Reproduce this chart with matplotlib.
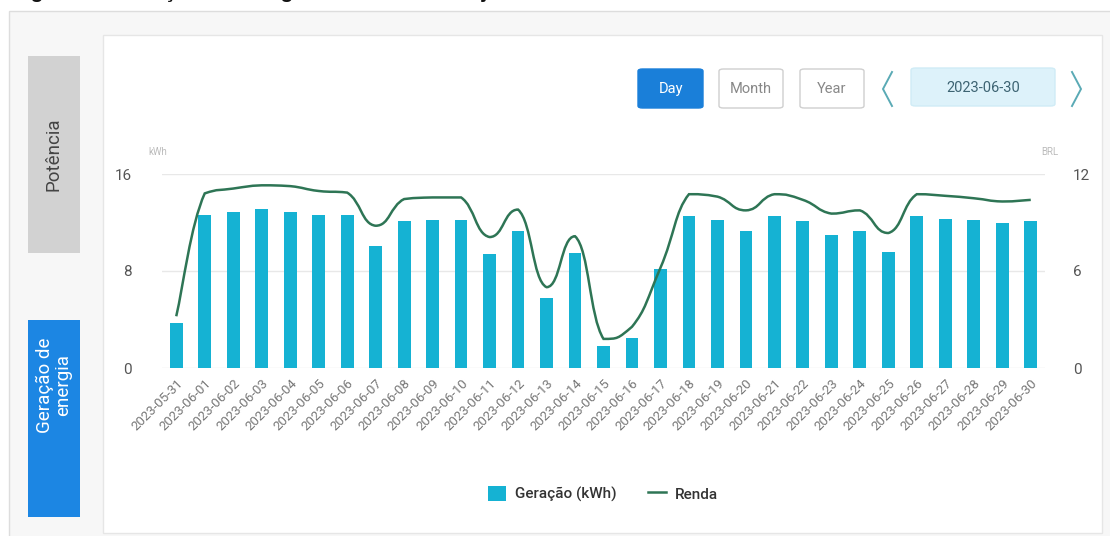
import numpy as np
import matplotlib
matplotlib.use("Agg")
import matplotlib.pyplot as plt
from matplotlib.patches import Rectangle, FancyBboxPatch, Patch, PathPatch
from matplotlib.lines import Line2D
from matplotlib.path import Path

plt.rcParams['font.family'] = ['Roboto', 'DejaVu Sans']

# data
dates = ["2023-05-31"] + [f"2023-06-{d:02d}" for d in range(1, 31)]
geracao_kwh = [3.7, 12.6, 12.9, 13.1, 12.9, 12.6, 12.6, 10.1, 12.1, 12.2,
               12.2, 9.4, 11.3, 5.8, 9.5, 1.8, 2.5, 8.2, 12.5, 12.2,
               11.3, 12.5, 12.1, 11.0, 11.3, 9.6, 12.5, 12.3, 12.2, 12.0,
               12.1]
renda_brl = [3.2, 10.8, 11.1, 11.3, 11.25, 10.95, 10.85, 8.8, 10.45, 10.55,
             10.55, 8.1, 9.8, 5.0, 8.15, 1.8, 2.55, 6.2, 10.75, 10.6,
             9.75, 10.75, 10.4, 9.55, 9.75, 8.35, 10.75, 10.65, 10.5, 10.3,
             10.4]
left_ticks = [0, 8, 16]
right_ticks = [0, 6, 12]
buttons = ["Day", "Month", "Year"]
current_date = "2023-06-30"

W, H = 1110, 536
fig = plt.figure(figsize=(W / 100, H / 100), dpi=100)


def px(x, y, w, h):
    # pixel box (top-left origin) -> figure fraction
    return x / W, 1 - (y + h) / H, w / W, h / H


def rect(x, y, w, h, **kw):
    l, b, ww, hh = px(x, y, w, h)
    fig.add_artist(Rectangle((l, b), ww, hh, transform=fig.transFigure, zorder=-5, **kw))


def rbox(x, y, w, h, **kw):
    l, b, ww, hh = px(x, y, w, h)
    fig.add_artist(FancyBboxPatch((l, b), ww, hh, boxstyle="round,pad=0,rounding_size=0.004",
                                  transform=fig.transFigure, zorder=-4, **kw))


def ftext(x, y, s, **kw):
    fig.text(x / W, 1 - y / H, s, **kw)


def chevron(x, y, w, h, left=True):
    xs = [x + w, x, x + w] if left else [x, x + w, x]
    ys = [y, y + h / 2, y + h]
    fig.add_artist(Line2D([v / W for v in xs], [1 - v / H for v in ys], transform=fig.transFigure,
                          color="#5aaab5", lw=1.4, solid_joinstyle="miter"))


# caption, mostly cut off at the top edge
ftext(12, -1.5, "Figura 4 – Geração de energia solar no mês de junho", family="Liberation Sans",
      fontsize=15, fontweight="bold", color="#111111", va="baseline", ha="left")

# outer card and inner panel
rect(9, 11, 1120, 540, facecolor="#f7f7f7", edgecolor="#dddddd", lw=1)
rect(103, 35, 999, 498, facecolor="white", edgecolor="#e6e6e6", lw=1)

# side tabs
rect(28, 56, 52, 197, facecolor="#d2d2d2", edgecolor="none")
ftext(54, 154, "Potência", rotation=90, ha="center", va="center", fontsize=13.5, color="#444444")
rect(28, 320, 52, 197, facecolor="#1c86e3", edgecolor="none")
ftext(54, 385, "Geração de\nenergia", rotation=90, ha="center", va="center", fontsize=13.5,
      color="white", linespacing=1.0)

# period buttons
bx = [638, 719, 800]
for i, name in enumerate(buttons):
    if i == 0:
        rbox(bx[i], 69, 65, 39, facecolor="#1a7fd9", edgecolor="#1a7fd9", lw=1)
        ftext(bx[i] + 32.5, 89, name, ha="center", va="center", fontsize=10.5, color="white")
    else:
        rbox(bx[i], 69, 64, 39, facecolor="white", edgecolor="#cfcfcf", lw=1)
        ftext(bx[i] + 32, 89, name, ha="center", va="center", fontsize=10.5, color="#888888")
chevron(883, 72, 9, 34, left=True)
rbox(911, 68, 144, 38, facecolor="#ddf2fa", edgecolor="#d0ecf6", lw=1)
ftext(983, 88, current_date, ha="center", va="center", fontsize=10.5, color="#3d6473")
chevron(1072, 72, 9, 34, left=False)

# chart
ax = fig.add_axes(px(162, 174, 883, 194))
ax.patch.set_alpha(0)
x = np.arange(len(dates))
ax.bar(x, geracao_kwh, width=0.45, color="#15b2d3", zorder=2)
ax.set_xlim(-0.5, len(dates) - 0.5)
ax.set_ylim(0, 16)
ax.set_yticks(left_ticks)
ax.yaxis.grid(True, color="#e8e8e8", lw=1, zorder=0)
ax.set_axisbelow(True)
for s in ax.spines.values():
    s.set_visible(False)
ax.tick_params(axis="y", length=0, pad=22, labelsize=11, labelcolor="#555555")
ax.set_xticks(x)
ax.set_xticklabels(dates, rotation=45, ha="right", rotation_mode="anchor",
                   fontsize=9.5, color="#777777")
ax.tick_params(axis="x", length=0, pad=6)
ax.text(-0.005, 1.1, "kWh", transform=ax.transAxes, fontsize=7, color="#bbbbbb", ha="center")

ax2 = ax.twinx()
ax2.patch.set_alpha(0)
ax2.set_ylim(0, 12)
ax2.set_yticks(right_ticks)
for s in ax2.spines.values():
    s.set_visible(False)
ax2.tick_params(axis="y", length=0, pad=20, labelsize=11, labelcolor="#555555")
ax2.text(1.006, 1.1, "BRL", transform=ax.transAxes, fontsize=7, color="#bbbbbb", ha="center")

# smooth line as bezier path through the points, control points kept
# inside each segment's y-range so the curve does not overshoot
pts = np.column_stack([x, renda_brl]).astype(float)
verts = [pts[0]]
codes = [Path.MOVETO]
k = 0.25
for i in range(len(pts) - 1):
    p0 = pts[i - 1] if i > 0 else pts[i]
    p1, p2 = pts[i], pts[i + 1]
    p3 = pts[i + 2] if i + 2 < len(pts) else pts[i + 1]
    c1 = p1 + (p2 - p0) * k
    c2 = p2 - (p3 - p1) * k
    lo, hi = min(p1[1], p2[1]), max(p1[1], p2[1])
    c1[1] = np.clip(c1[1], lo, hi)
    c2[1] = np.clip(c2[1], lo, hi)
    verts += [c1, c2, p2]
    codes += [Path.CURVE4] * 3
ax2.add_patch(PathPatch(Path(verts, codes), facecolor="none", edgecolor="#2e7555", lw=1.8, zorder=3))

handles = [Patch(facecolor="#15b2d3", edgecolor="none"),
           Line2D([], [], color="#2e7555", lw=1.8)]
fig.legend(handles, ["Geração (kWh)", "Renda"], loc="center", bbox_to_anchor=(603 / W, 1 - 494 / H),
           ncol=2, frameon=False, handlelength=1.2, handleheight=1.2,
           columnspacing=2.0, handletextpad=0.6, prop={"weight": "medium", "size": 11})
for t in fig.legends[0].get_texts():
    t.set_color("#333333")

fig.savefig("out.png", dpi=100)
